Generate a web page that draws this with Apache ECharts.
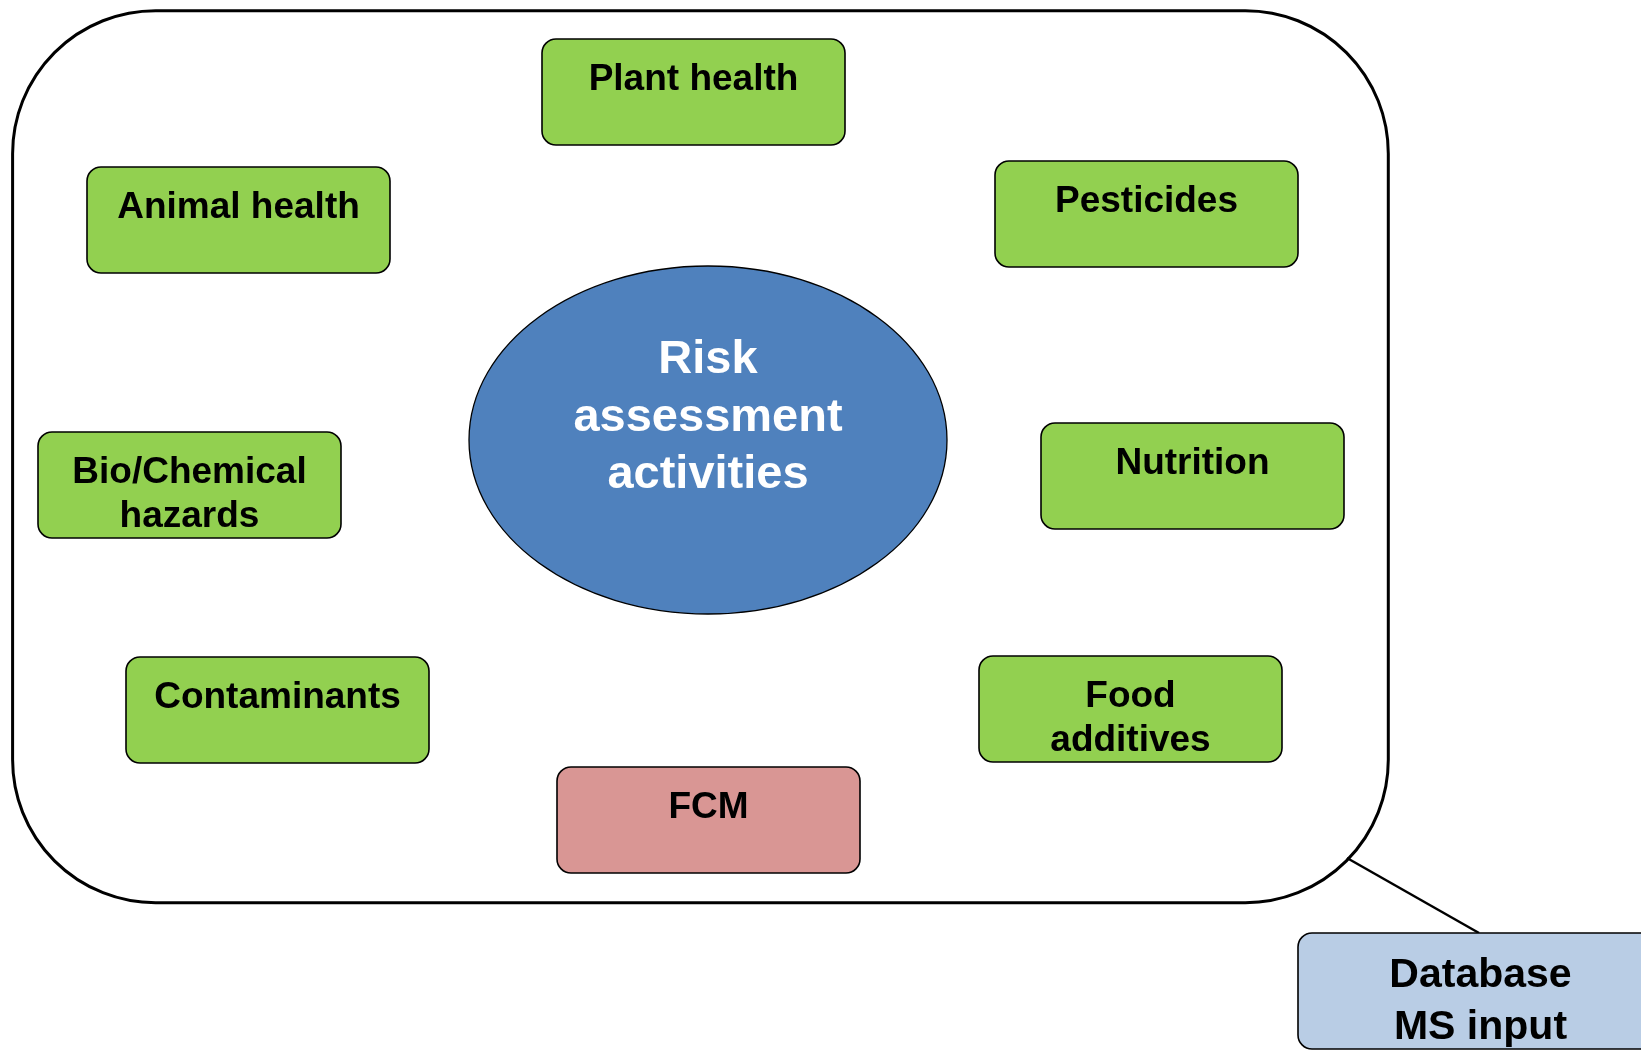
<!DOCTYPE html>
<html>
<head>
<meta charset="utf-8">
<script src="https://cdn.jsdelivr.net/npm/echarts@6/dist/echarts.min.js"></script>
<style>
html,body{margin:0;padding:0;background:#fff;}
#chart{width:1641px;height:1051px;}
</style>
</head>
<body>
<div id="chart"></div>
<script>
// ---- diagram data (page units, y downward) ----
const frameBox = [12.6, 10.7, 1375.7, 892];            // x, y, w, h of outer rounded frame

const topicLabels = ['Plant health', 'Animal health', 'Pesticides', 'Bio/Chemical\nhazards', 'Nutrition', 'Contaminants', 'Food\nadditives'];
const topicX = [542, 87, 995, 38, 1041, 126, 979];
const topicY = [39, 167, 161, 432, 423, 657, 656];
const topicW = [303, 303, 303, 303, 303, 303, 303];
const topicH = [106, 106, 106, 106, 106, 106, 106];

const fcmLabel = ['FCM'];
const fcmX = [557];
const fcmY = [767];
const fcmW = [303];
const fcmH = [106];

const centerLabel = ['Risk\nassessment\nactivities'];
const centerX = [708];
const centerY = [440];
const centerRX = [239];
const centerRY = [174];

const dbLabel = ['Database\nMS input'];
const dbX = [1298];
const dbY = [933];
const dbW = [365];
const dbH = [116];

const connectorX = [1347, 1479];
const connectorY = [858, 933];

// ---- build ----
const FONT = '"Liberation Sans", Arial, Helvetica, sans-serif';

function boxSeries(name, xs, ys, ws, hs, labels, fill, textTop, lh, fs) {
  return {
    type: 'custom', name: name, z: 3,
    coordinateSystem: 'cartesian2d',
    clip: false,
    data: xs.map((x, i) => [x, ys[i], ws[i], hs[i]]),
    renderItem: function (params, api) {
      const i = params.dataIndex;
      const p = api.coord([api.value(0), api.value(1)]);
      const s = api.size([api.value(2), api.value(3)]);
      return {
        type: 'group',
        children: [
          { type: 'rect', shape: { x: p[0], y: p[1], width: s[0], height: s[1], r: 14 },
            style: { fill: fill, stroke: '#000', lineWidth: 1.6 } },
          { type: 'text', style: { text: labels[i], x: p[0] + s[0] / 2, y: p[1] + textTop,
            fill: '#000', font: 'bold ' + fs + 'px ' + FONT, align: 'center', verticalAlign: 'top', lineHeight: lh } }
        ]
      };
    }
  };
}

const option = {
  animation: false,
  backgroundColor: '#ffffff',
  grid: { left: 0, right: 0, top: 0, bottom: 0 },
  xAxis: { type: 'value', min: 0, max: 1641, show: false },
  yAxis: { type: 'value', min: 0, max: 1051, inverse: true, show: false },
  series: [
    {
      type: 'custom', name: 'frame', z: 1, clip: false,
      coordinateSystem: 'cartesian2d',
      data: [frameBox],
      renderItem: function (params, api) {
        const p = api.coord([api.value(0), api.value(1)]);
        const s = api.size([api.value(2), api.value(3)]);
        return { type: 'rect', shape: { x: p[0], y: p[1], width: s[0], height: s[1], r: 143 },
          style: { fill: 'none', stroke: '#000', lineWidth: 3 } };
      }
    },
    {
      type: 'line', name: 'connector', z: 2,
      data: connectorX.map((x, i) => [x, connectorY[i]]),
      symbol: 'none', silent: true,
      lineStyle: { color: '#000', width: 2.5 }
    },
    {
      type: 'custom', name: 'center', z: 3, clip: false,
      coordinateSystem: 'cartesian2d',
      data: centerX.map((x, i) => [x, centerY[i], centerRX[i], centerRY[i]]),
      renderItem: function (params, api) {
        const i = params.dataIndex;
        const c = api.coord([api.value(0), api.value(1)]);
        const r = api.size([api.value(2), api.value(3)]);
        return {
          type: 'group',
          children: [
            { type: 'ellipse', shape: { cx: c[0], cy: c[1], rx: r[0], ry: r[1] },
              style: { fill: '#4F81BD', stroke: '#000', lineWidth: 1.3 } },
            { type: 'text', style: { text: centerLabel[i], x: c[0], y: c[1] - 22,
              fill: '#fff', font: 'bold 47px ' + FONT, align: 'center', verticalAlign: 'middle', lineHeight: 57.5 } }
          ]
        };
      }
    },
    boxSeries('topics', topicX, topicY, topicW, topicH, topicLabels, '#92D050', 18.5, 44, 37),
    boxSeries('fcm', fcmX, fcmY, fcmW, fcmH, fcmLabel, '#D99694', 19, 44, 37),
    boxSeries('database', dbX, dbY, dbW, dbH, dbLabel, '#B9CDE5', 16.5, 52, 41)
  ]
};

const chart = echarts.init(document.getElementById('chart'), null, { renderer: 'canvas' });
chart.setOption(option);
</script>
</body>
</html>
